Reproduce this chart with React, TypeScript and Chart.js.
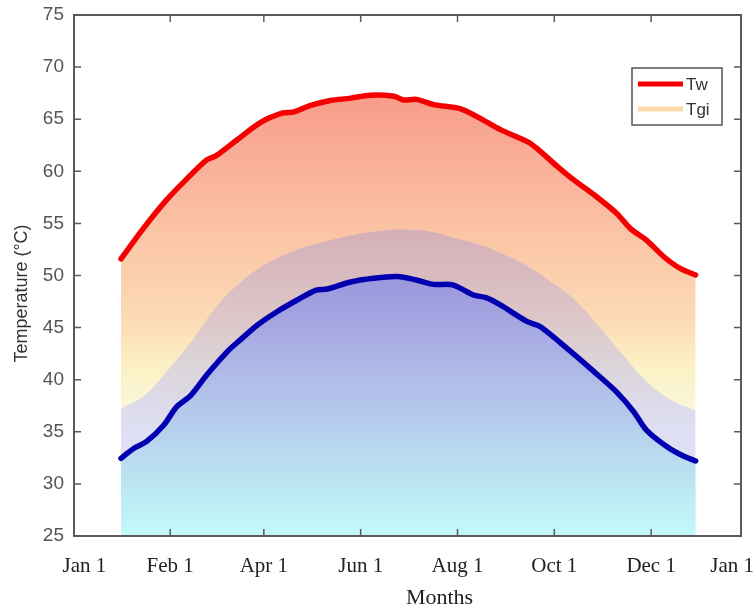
import React, { useEffect, useRef } from 'react';
import { Chart, registerables } from 'chart.js';

Chart.register(...registerables);

// ---- Data (day of year on x, temperature in °C on y) ----
const tickDays = [-23, 31, 90, 151, 212, 273, 334, 385];
const tickLabels = ['Jan 1', 'Feb 1', 'Apr 1', 'Jun 1', 'Aug 1', 'Oct 1', 'Dec 1', 'Jan 1'];
const yTickValues = [25, 30, 35, 40, 45, 50, 55, 60, 65, 70, 75];

const twDays = [0, 14, 29, 41, 54, 60, 73, 88, 102, 109, 119, 132, 144, 157, 172, 178, 186, 197, 214, 226, 239, 256, 262, 275, 285, 298, 312, 321, 331, 342, 352, 362];
const twTemps = [51.6, 54.5, 57.3, 59.2, 61.1, 61.5, 63.0, 64.7, 65.6, 65.7, 66.3, 66.8, 67.0, 67.3, 67.2, 66.85, 66.9, 66.4, 66.0, 65.1, 64.0, 62.85, 62.2, 60.45, 59.2, 57.75, 56.0, 54.5, 53.4, 51.8, 50.7, 50.05];

const tgiDays = [0, 15, 30, 45, 60, 75, 90, 105, 120, 135, 150, 165, 180, 195, 210, 225, 240, 255, 270, 285, 300, 315, 330, 345, 362];
const tgiTemps = [37.2, 38.5, 41.0, 43.8, 47.0, 49.3, 51.0, 52.1, 52.9, 53.5, 54.0, 54.3, 54.4, 54.2, 53.6, 53.0, 52.1, 51.0, 49.5, 47.8, 45.3, 42.6, 40.0, 38.2, 37.0];

const tbDays = [0, 8, 16, 27, 35, 44, 54, 67, 75, 86, 98, 111, 123, 130, 144, 159, 174, 186, 197, 209, 222, 230, 239, 256, 264, 281, 298, 312, 323, 331, 344, 354, 362];
const tbTemps = [32.45, 33.4, 34.05, 35.65, 37.4, 38.5, 40.45, 42.7, 43.8, 45.25, 46.5, 47.65, 48.6, 48.7, 49.35, 49.73, 49.9, 49.57, 49.15, 49.1, 48.13, 47.87, 47.17, 45.57, 45.1, 43.0, 40.77, 38.85, 36.93, 35.17, 33.57, 32.7, 32.2];

const legendLabels = ['Tw', 'Tgi'];
const xTitle = 'Months';
const yTitle = 'Temperature (°C)';

// ---- Styles ----
const redStops: [number, string][] = [
  [68, '#f79a88'], [60, '#f9b29a'], [52, '#fbcaa9'], [46, '#fcdab5'], [41, '#fcf1c6'], [36, '#f8f8e0'], [25, '#eef8f8'],
];
const tgiStops: [number, string][] = [
  [55, 'rgba(150,140,215,0.38)'], [45, 'rgba(175,170,230,0.40)'], [35, 'rgba(212,212,252,0.68)'], [25, 'rgba(212,212,252,0.68)'],
];
const blueStops: [number, string][] = [
  [50, '#9a96dc'], [45, '#a6a8e2'], [40, '#b0bce8'], [35, '#b6d0ee'], [30, '#bce6f2'], [25, '#c2fafa'],
];

function gradientFor(stops: [number, string][]) {
  return (ctx: any) => {
    const chart = ctx.chart;
    if (!chart.chartArea) return 'rgba(0,0,0,0)';
    const y = chart.scales.y;
    const top = stops[0][0];
    const bot = stops[stops.length - 1][0];
    const g = chart.ctx.createLinearGradient(0, y.getPixelForValue(top), 0, y.getPixelForValue(bot));
    stops.forEach(([t, c]) => g.addColorStop((top - t) / (top - bot), c));
    return g;
  };
}

const pts = (xs: number[], ys: number[]) => xs.map((x, i) => ({ x, y: ys[i] }));

const framePlugin = {
  id: 'frameAndLegend',
  afterDraw(chart: any) {
    const { ctx, chartArea: a, scales } = chart;
    ctx.save();
    ctx.strokeStyle = '#5a5a5a';
    ctx.lineWidth = 2;
    ctx.strokeRect(a.left, a.top, a.right - a.left, a.bottom - a.top);
    ctx.lineWidth = 1.5;
    const tl = 7;
    ctx.beginPath();
    scales.x.ticks.forEach((t: any, i: number) => {
      if (i === 0 || i === scales.x.ticks.length - 1) return;
      const px = scales.x.getPixelForValue(t.value);
      ctx.moveTo(px, a.bottom); ctx.lineTo(px, a.bottom - tl);
      ctx.moveTo(px, a.top); ctx.lineTo(px, a.top + tl);
    });
    scales.y.ticks.forEach((t: any) => {
      const py = scales.y.getPixelForValue(t.value);
      ctx.moveTo(a.left, py); ctx.lineTo(a.left + tl, py);
      ctx.moveTo(a.right, py); ctx.lineTo(a.right - tl, py);
    });
    ctx.stroke();

    // axis titles
    ctx.textAlign = 'center';
    ctx.textBaseline = 'middle';
    ctx.fillStyle = '#222';
    ctx.font = '22px "Liberation Serif", "Times New Roman", serif';
    ctx.fillText(xTitle, (a.left + a.right) / 2 + 32, chart.height - 15);
    ctx.save();
    ctx.translate(22, (a.top + a.bottom) / 2 + 18);
    ctx.rotate(-Math.PI / 2);
    ctx.fillStyle = '#333';
    ctx.font = '18px "Liberation Sans", Arial, sans-serif';
    ctx.fillText(yTitle, 0, 0);
    ctx.restore();

    // legend box
    const bx = a.right - 109, by = a.top + 53, bw = 90, bh = 57;
    ctx.fillStyle = '#ffffff';
    ctx.fillRect(bx, by, bw, bh);
    ctx.strokeStyle = '#555';
    ctx.lineWidth = 1.5;
    ctx.strokeRect(bx, by, bw, bh);
    ctx.font = '17px "Liberation Sans", Arial, sans-serif';
    ctx.textBaseline = 'middle';
    ctx.textAlign = 'left';
    legendLabels.forEach((lab, i) => {
      const ds = chart.data.datasets.find((d: any) => d.label === lab);
      const ly = by + 16 + i * 25;
      ctx.strokeStyle = ds.legendColor;
      ctx.lineWidth = 5;
      ctx.lineCap = 'butt';
      ctx.beginPath();
      ctx.moveTo(bx + 6, ly); ctx.lineTo(bx + 51, ly);
      ctx.stroke();
      ctx.fillStyle = '#333';
      ctx.fillText(lab, bx + 54, ly + 1);
    });
    ctx.restore();
  },
};

export default function App() {
  const ref = useRef<HTMLCanvasElement>(null);
  useEffect(() => {
    const chart = new Chart(ref.current!, {
      type: 'line',
      data: {
        datasets: [
          {
            label: 'Tw',
            data: pts(twDays, twTemps),
            borderColor: '#f50000',
            legendColor: '#f50000',
            borderWidth: 5.5,
            backgroundColor: gradientFor(redStops),
            fill: 'start',
            tension: 0.3,
            pointRadius: 0,
            borderCapStyle: 'round',
            borderJoinStyle: 'round',
            order: 3,
          } as any,
          {
            label: 'Tgi',
            data: pts(tgiDays, tgiTemps),
            borderColor: 'rgba(0,0,0,0)',
            legendColor: '#fcd9a8',
            borderWidth: 0,
            backgroundColor: gradientFor(tgiStops),
            fill: 'start',
            tension: 0.4,
            pointRadius: 0,
            order: 2,
          } as any,
          {
            label: 'Tb',
            data: pts(tbDays, tbTemps),
            borderColor: '#0000b0',
            legendColor: '#0000b0',
            borderWidth: 5.5,
            backgroundColor: gradientFor(blueStops),
            fill: 'start',
            tension: 0.3,
            pointRadius: 0,
            borderCapStyle: 'round',
            borderJoinStyle: 'round',
            order: 1,
          } as any,
        ],
      },
      options: {
        animation: false,
        responsive: false,
        layout: { padding: { top: 15, right: 15, left: 0, bottom: 0 } },
        plugins: { legend: { display: false }, tooltip: { enabled: false } },
        scales: {
          x: {
            type: 'linear',
            min: -29.6,
            max: 390.6,
            grid: { display: false, drawTicks: false },
            border: { display: false },
            afterBuildTicks: (s: any) => { s.ticks = tickDays.map((v) => ({ value: v })); },
            afterFit: (s: any) => { s.height = 77; s.paddingLeft = 0; s.paddingRight = 0; },
            ticks: {
              autoSkip: false,
              maxRotation: 0,
              minRotation: 0,
              padding: 18,
              color: '#222',
              font: { family: '"Liberation Serif", "Times New Roman", serif', size: 21 },
              callback: (v: any) => tickLabels[tickDays.indexOf(Number(v))],
            },
            title: { display: false },
          },
          y: {
            type: 'linear',
            min: 25,
            max: 75,
            grid: { display: false, drawTicks: false },
            border: { display: false },
            afterBuildTicks: (s: any) => { s.ticks = yTickValues.map((v) => ({ value: v })); },
            afterFit: (s: any) => { s.width = 74; s.paddingTop = 0; s.paddingBottom = 0; },
            ticks: {
              padding: 10,
              color: '#555',
              font: { family: '"Liberation Sans", Arial, sans-serif', size: 19 },
            },
            title: { display: false },
          },
        },
      },
      plugins: [framePlugin],
    } as any);
    return () => chart.destroy();
  }, []);
  return (
    <div style={{ position: 'absolute', left: 0, top: 0, width: 756, height: 613, background: '#fff' }}>
      <canvas ref={ref} width={756} height={613} style={{ display: 'block' }} />
    </div>
  );
}
